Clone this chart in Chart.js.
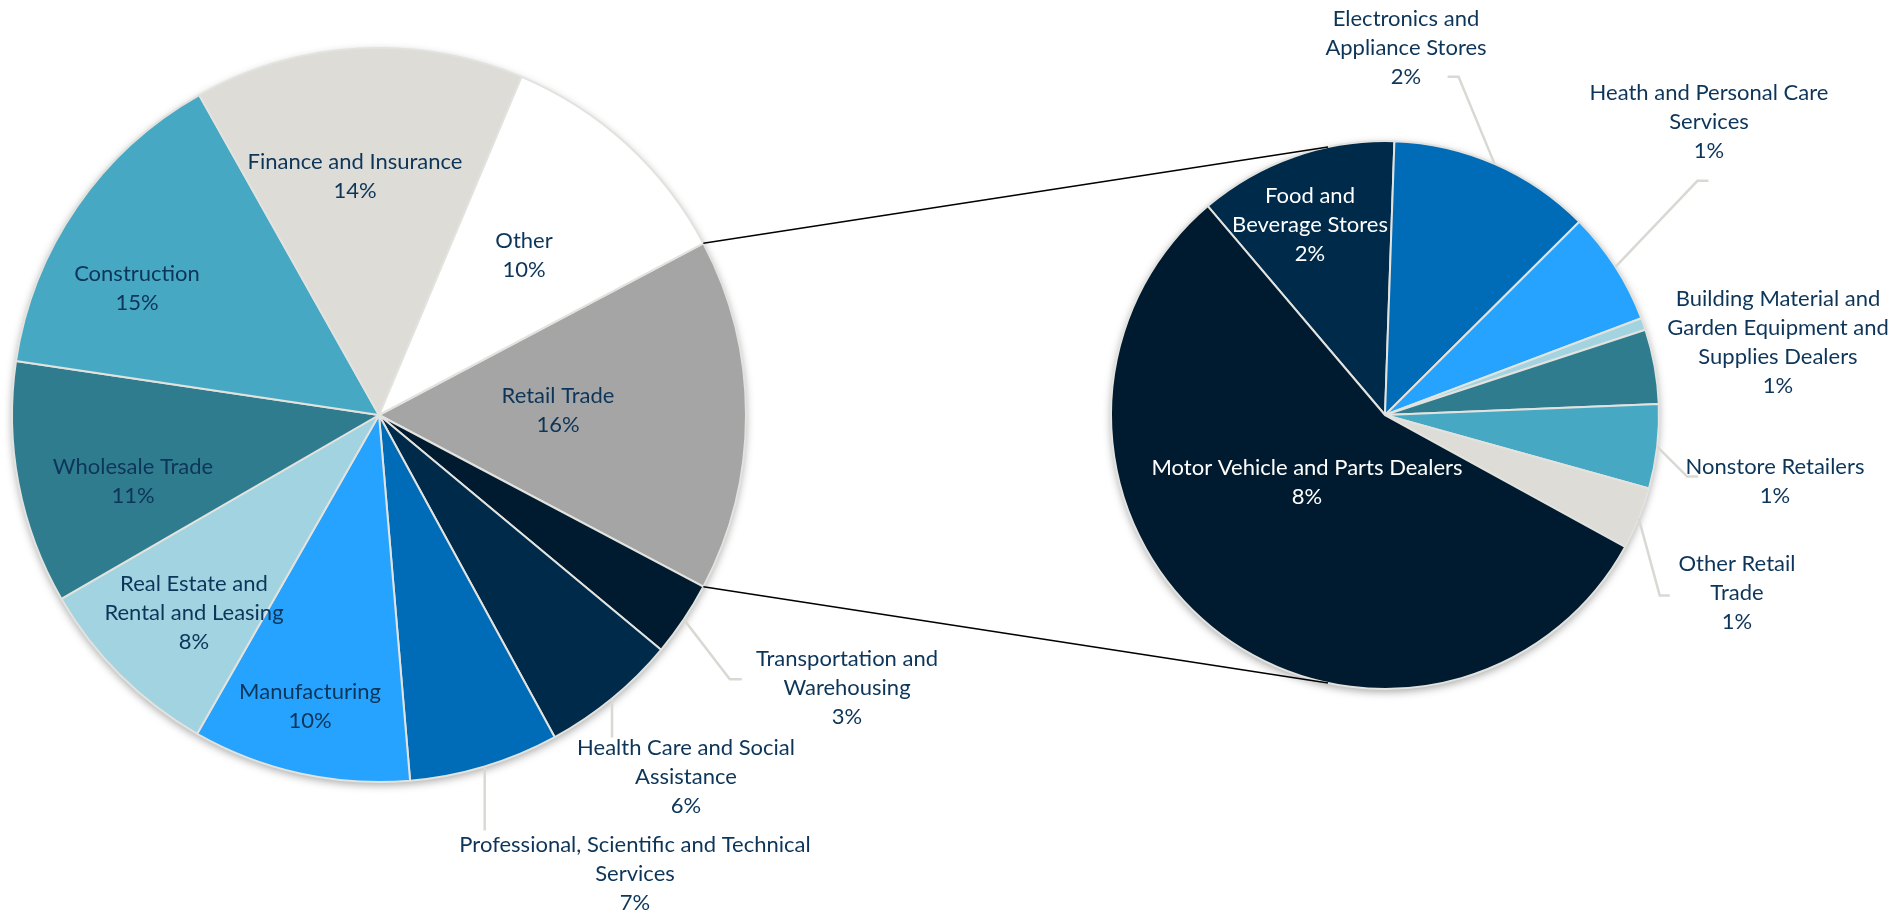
<!DOCTYPE html>
<html>
<head>
<meta charset="utf-8">
<script src="https://cdn.jsdelivr.net/npm/chart.js@4.4.1/dist/chart.umd.min.js"></script>
<style>
  html, body { margin: 0; padding: 0; background: #fff; overflow: hidden; }
  #wrap { position: relative; width: 1897px; height: 915px; }
  #wrap canvas { position: absolute; left: 0; top: 0; }
</style>
</head>
<body>
<div id="wrap">
  <canvas id="mainPie" width="1897" height="915"></canvas>
  <canvas id="subPie" width="1897" height="915"></canvas>
</div>
<script>
// left pie: share by industry (Retail Trade is broken out on the right)
const mainCategories = [
  ['Retail Trade'],
  ['Transportation and', 'Warehousing'],
  ['Health Care and Social', 'Assistance'],
  ['Professional, Scientific and Technical', 'Services'],
  ['Manufacturing'],
  ['Real Estate and', 'Rental and Leasing'],
  ['Wholesale Trade'],
  ['Construction'],
  ['Finance and Insurance'],
  ['Other']
];
const mainValues = [15.5, 3.3, 6.0, 6.6, 9.6, 8.4, 10.7, 14.5, 14.5, 10.9];
const mainPct = ['16%', '3%', '6%', '7%', '10%', '8%', '11%', '15%', '14%', '10%'];

// right pie: Retail Trade split
const subCategories = [
  ['Food and', 'Beverage Stores'],
  ['Electronics and', 'Appliance Stores'],
  ['Heath and Personal Care', 'Services'],
  [],
  ['Building Material and', 'Garden Equipment and', 'Supplies Dealers'],
  ['Nonstore Retailers'],
  ['Other Retail', 'Trade'],
  ['Motor Vehicle and Parts Dealers']
];
const subValues = [1.82, 1.86, 1.04, 0.11, 0.68, 0.77, 0.57, 8.65];
const subPct = ['2%', '2%', '1%', '', '1%', '1%', '1%', '8%'];

const mainColors = ['#A5A5A5', '#001B2F', '#002A4A', '#006BB6', '#26A3FE', '#A1D3E1', '#307C8F', '#47A8C4', '#DDDCD7', '#FFFFFF'];
const subColors = ['#002A4A', '#006BB6', '#26A3FE', '#A1D3E1', '#307C8F', '#47A8C4', '#DDDCD7', '#001B2F'];

const NAVY = '#0D3559';
const labelFont = '22px Lato';

// label centres relative to the pie centre, and leader line bends relative to the rim
const mainLabelPos = [[179, -5], [468, 273], [307, 362], [256, 459], [-69, 291], [-185, 198], [-246, 66], [-242, -127], [-24, -239], [145, -160]];
const mainLeaders = [null, [[46, 60], [58, 60]], [[0, 39]], [[0, 64]], null, null, null, null, null, null];
const subLabelPos = [[-75, -190], [21, -367], [324, -293], null, [393, -73], [390, 66], [352, 178], [-78, 67]];
const subLeaders = [null, [[-36, -87], [-47, -87]], [[82, -86], [93, -86]], null, null, [[30, 30], [41, 30]], [[21, 77], [31, 77]], null];
const subTextColors = ['#FFFFFF', NAVY, NAVY, NAVY, NAVY, NAVY, NAVY, '#FFFFFF'];

const pieShadow = {
  id: 'pieShadow',
  beforeDatasetsDraw(chart) {
    const p = chart.getDatasetMeta(0).data[0].getProps(['x', 'y', 'outerRadius'], true);
    const ctx = chart.ctx;
    ctx.save();
    ctx.shadowColor = 'rgba(0,0,0,0.35)';
    ctx.shadowBlur = 9;
    ctx.shadowOffsetY = 3;
    ctx.beginPath();
    ctx.arc(p.x, p.y, p.outerRadius, 0, Math.PI * 2);
    ctx.fillStyle = '#fff';
    ctx.fill();
    ctx.restore();
  }
};

const sliceLabels = {
  id: 'sliceLabels',
  afterDatasetsDraw(chart, args, opts) {
    const ctx = chart.ctx;
    const cats = chart.data.labels;
    chart.getDatasetMeta(0).data.forEach((arc, i) => {
      const pos = opts.positions[i];
      if (!pos) return;
      const p = arc.getProps(['x', 'y', 'startAngle', 'endAngle', 'outerRadius'], true);
      const lead = opts.leaders[i];
      ctx.save();
      if (lead) {
        const mid = (p.startAngle + p.endAngle) / 2;
        const sx = p.x + p.outerRadius * Math.cos(mid);
        const sy = p.y + p.outerRadius * Math.sin(mid);
        ctx.beginPath();
        ctx.moveTo(sx, sy);
        lead.forEach(d => ctx.lineTo(sx + d[0], sy + d[1]));
        ctx.strokeStyle = '#D9D9D4';
        ctx.lineWidth = 2.5;
        ctx.stroke();
      }
      const lines = cats[i].concat([opts.pct[i]]);
      const cx = p.x + pos[0], cy = p.y + pos[1];
      ctx.font = labelFont;
      ctx.textAlign = 'center';
      ctx.textBaseline = 'middle';
      ctx.fillStyle = opts.colors ? opts.colors[i] : NAVY;
      lines.forEach((t, k) => ctx.fillText(t, cx, cy + (k - (lines.length - 1) / 2) * 29));
      ctx.restore();
    });
  }
};

const mainTotal = mainValues.reduce((a, b) => a + b, 0);

const mainChart = new Chart(document.getElementById('mainPie'), {
  type: 'pie',
  data: {
    labels: mainCategories,
    datasets: [{
      data: mainValues,
      backgroundColor: mainColors,
      borderColor: '#E2E2DE',
      borderWidth: 2
    }]
  },
  options: {
    responsive: false,
    animation: false,
    devicePixelRatio: 1,
    rotation: 90 - mainValues[0] / mainTotal * 180,
    layout: { padding: { left: 11, top: 47, right: 1150, bottom: 132 } },
    plugins: {
      legend: { display: false },
      tooltip: { enabled: false },
      sliceLabels: { positions: mainLabelPos, leaders: mainLeaders, pct: mainPct }
    }
  },
  plugins: [pieShadow, sliceLabels]
});

const connectors = {
  id: 'connectors',
  afterDraw(chart) {
    const m = mainChart.getDatasetMeta(0).data[0].getProps(['x', 'y', 'startAngle', 'endAngle', 'outerRadius'], true);
    const s = chart.getDatasetMeta(0).data[0].getProps(['x', 'y', 'outerRadius'], true);
    const spread = 78 * Math.PI / 180;
    const ctx = chart.ctx;
    ctx.save();
    ctx.strokeStyle = '#000';
    ctx.lineWidth = 1.4;
    [[m.startAngle, Math.PI + spread], [m.endAngle, Math.PI - spread]].forEach(([a, b]) => {
      ctx.beginPath();
      ctx.moveTo(m.x + m.outerRadius * Math.cos(a), m.y + m.outerRadius * Math.sin(a));
      ctx.lineTo(s.x + s.outerRadius * Math.cos(b), s.y + s.outerRadius * Math.sin(b));
      ctx.stroke();
    });
    ctx.restore();
  }
};

const subChart = new Chart(document.getElementById('subPie'), {
  type: 'pie',
  data: {
    labels: subCategories,
    datasets: [{
      data: subValues,
      backgroundColor: subColors,
      borderColor: '#E2E2DE',
      borderWidth: 2
    }]
  },
  options: {
    responsive: false,
    animation: false,
    devicePixelRatio: 1,
    rotation: 319.7,
    layout: { padding: { left: 1110, top: 140, right: 237, bottom: 225 } },
    plugins: {
      legend: { display: false },
      tooltip: { enabled: false },
      sliceLabels: { positions: subLabelPos, leaders: subLeaders, pct: subPct, colors: subTextColors }
    }
  },
  plugins: [pieShadow, sliceLabels, connectors]
});
</script>
</body>
</html>
